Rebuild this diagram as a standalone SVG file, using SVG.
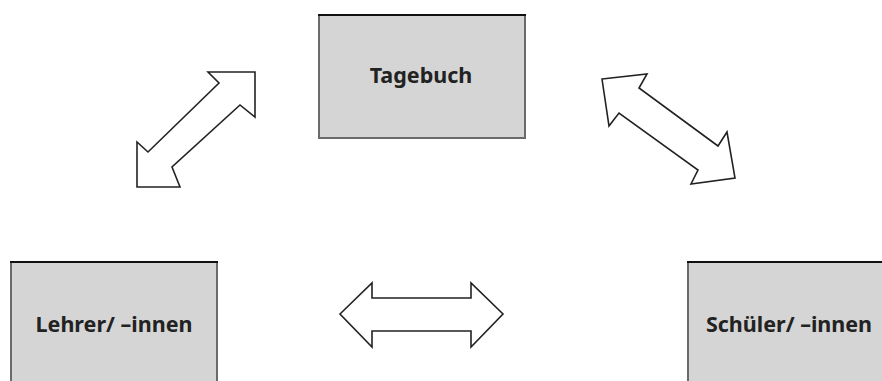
<svg xmlns="http://www.w3.org/2000/svg" width="882" height="381" viewBox="0 0 882 381">
<style>
.box{fill:#d5d5d5;stroke:#6a6a6a;stroke-width:2}
.lbl{font-family:"Noto Sans","Open Sans",sans-serif;font-weight:bold;font-size:21.5px;fill:#222}
.arr{fill:#fff;stroke:#222;stroke-width:1.6;stroke-linejoin:miter}
</style>
<rect width="882" height="381" fill="#fff"/>
<g id="tagebuch">
<rect class="box" x="319" y="15" width="206" height="123"/>
<line x1="318" y1="15" x2="526" y2="15" stroke="#111" stroke-width="2"/>
<text class="lbl" x="421" y="83" text-anchor="middle">Tagebuch</text>
</g>
<g id="lehrer">
<rect class="box" x="11" y="262" width="206" height="130"/>
<line x1="10" y1="262" x2="218" y2="262" stroke="#111" stroke-width="2"/>
<text class="lbl" x="114" y="332" text-anchor="middle">Lehrer/ –innen</text>
</g>
<g id="schueler">
<rect class="box" x="688" y="262" width="206" height="130"/>
<line x1="687" y1="262" x2="882" y2="262" stroke="#111" stroke-width="2"/>
<text class="lbl" x="789" y="332" text-anchor="middle">Schüler/ –innen</text>
</g>
<g id="connectors">
<polygon class="arr" points="255,72 208,72 219,83 148,152 137,142 137,187 180,187 172,167 240,105 255,117"/>
<polygon class="arr" points="602,79 647,74 639,88 718,146 727,132 735,178 691,184 698,170 619,113 609,126"/>
<polygon class="arr" points="340,314 372,283 372,298 471,298 471,283 503,314 471,347 471,331 372,331 372,347"/>
</g>
</svg>
